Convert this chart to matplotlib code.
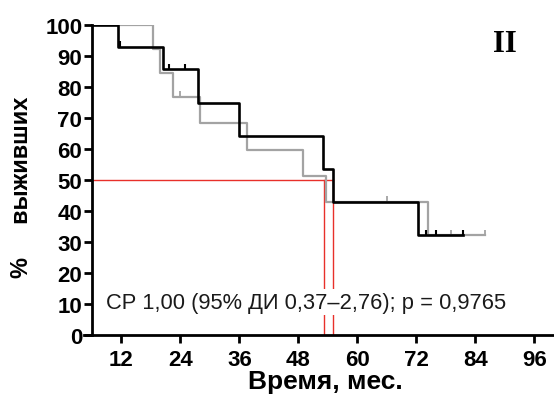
import matplotlib
matplotlib.use("Agg")
import matplotlib.pyplot as plt

# Kaplan-Meier steps (months, % surviving)
black_times = [0, 11.2, 20.5, 27.6, 36.0, 53.0, 55.0, 72.4, 81.5]
black_surv = [100, 93.0, 85.7, 75.0, 64.3, 53.6, 42.9, 32.1, 32.1]
black_cens_t = [11.7, 21.7, 25.0, 74.0, 76.0, 81.5]
black_cens_s = [93.0, 85.7, 85.7, 32.1, 32.1, 32.1]

gray_times = [0, 18.5, 19.8, 22.5, 28.0, 37.6, 49.0, 53.7, 74.4, 86.0]
gray_surv = [100, 92.3, 84.6, 76.9, 68.4, 59.8, 51.3, 42.9, 32.1, 32.1]
gray_cens_t = [12.4, 17.0, 24.0, 66.0, 79.0, 86.0]
gray_cens_s = [100, 100, 76.9, 42.9, 32.1, 32.1]

median_level = 50
median_times = [53.3, 55.1]

x_ticks = [12, 24, 36, 48, 60, 72, 84, 96]
y_ticks = list(range(0, 101, 10))
stats_text = "СР 1,00 (95% ДИ 0,37–2,76); p = 0,9765"

plt.rcParams["font.family"] = ["Liberation Sans", "DejaVu Sans"]

fig = plt.figure(figsize=(5.54, 4.06), dpi=100)
ax = fig.add_axes([92 / 554, 70 / 406, 462 / 554, 310 / 406])

# median lines
ax.plot([6, max(median_times)], [median_level, median_level], color="#e8302a", lw=1.0, zorder=1)
for t in median_times:
    ax.plot([t, t], [0, median_level], color="#e8302a", lw=1.0, zorder=1)

ax.step(gray_times, gray_surv, where="post", color="#a3a3a3", lw=1.6, zorder=2)
ax.vlines(gray_cens_t, gray_cens_s, [s + 1.8 for s in gray_cens_s], color="#a3a3a3", lw=1.3, zorder=2)

ax.step(black_times, black_surv, where="post", color="black", lw=1.9, zorder=3)
ax.vlines(black_cens_t, black_cens_s, [s + 1.8 for s in black_cens_s], color="black", lw=1.5, zorder=3)

ax.text(8.9, 10.6, stats_text, fontsize=15.75, color="#1a1a1a", va="center", ha="left",
        bbox=dict(facecolor="white", edgecolor="none", pad=2), zorder=4)

ax.text(505 / 554, 1 - 44 / 406, "II", transform=fig.transFigure, fontsize=22,
        family="Liberation Serif", fontweight="bold", ha="center", va="center")

ax.set_xlim(6, 100)
ax.set_ylim(0, 100)
ax.set_xticks(x_ticks)
ax.set_yticks(y_ticks)
for side in ("top", "right"):
    ax.spines[side].set_visible(False)
for side in ("left", "bottom"):
    ax.spines[side].set_linewidth(2.0)
ax.spines["bottom"].set_bounds(4.3, 100)

ax.tick_params(axis="both", direction="out", length=6, width=2.0, labelsize=16)
ax.tick_params(axis="y", pad=1)
ax.tick_params(axis="x", pad=4)
for lbl in ax.get_xticklabels() + ax.get_yticklabels():
    lbl.set_fontweight("bold")

fig.text(325 / 554, 1 - 389 / 406, "Время, мес.", fontsize=19, fontweight="bold",
         ha="center", va="baseline")
fig.text(22 / 554, 1 - 187 / 406, "%     выживших", fontsize=17, fontweight="bold",
         rotation=90, ha="center", va="center")

fig.savefig("out.png", dpi=100)
